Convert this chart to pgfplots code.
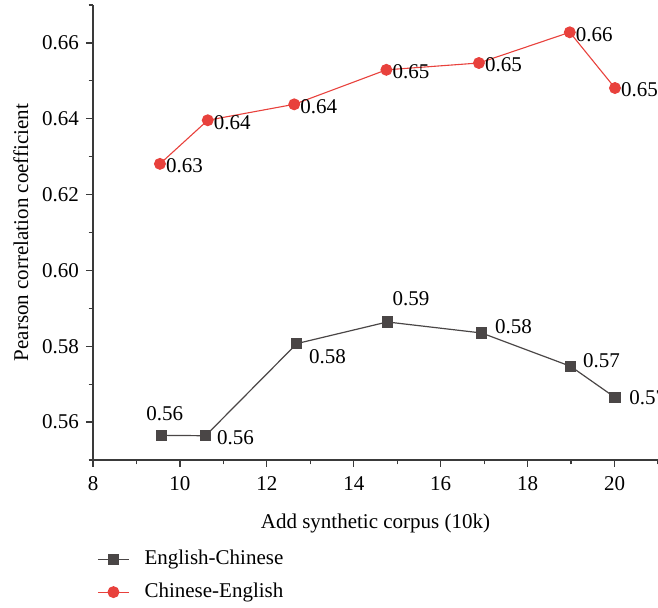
\documentclass[border=0pt]{standalone}
\usepackage{fontspec}
\setmainfont{Liberation Serif}
\usepackage{pgfplots}
\usepackage{pgfplotstable}
\pgfplotsset{compat=1.18}
\usetikzlibrary{calc}

\definecolor{ecgray}{HTML}{4A4646}
\definecolor{cered}{HTML}{E8413C}
\definecolor{axisgray}{HTML}{3A3A3A}

\pgfplotstableread{
x      y
9.58   0.5565
10.59  0.5564
12.69  0.5807
14.77  0.5864
16.94  0.5835
18.99  0.5747
20.01  0.5665
}\englishchinese

\pgfplotstableread{
x      y
9.54   0.6281
10.64  0.6396
12.63  0.6438
14.75  0.6529
16.88  0.6547
18.97  0.6628
20.01  0.6481
}\chineseenglish

\pgfplotsset{
  ec style/.style={color=ecgray, line width=0.6pt, mark=square*,
    mark options={fill=ecgray, draw=ecgray, mark size=2.5pt}},
  ce style/.style={color=cered, line width=0.55pt, mark=*,
    mark options={fill=cered, draw=cered, mark size=2.7pt}},
  value labels/.style={
    nodes near coords={\pgfmathprintnumber[fixed, fixed zerofill, precision=2, assume math mode=true]{\pgfplotspointmeta}},
    point meta=y,
    every node near coord/.style={inner sep=0pt, text=black,
      font=\fontsize{10.5}{12.5}\selectfont},
  },
  % value label of a single point: index, next index, anchor, xshift, yshift
  lbl/.style n args={5}{
    draw=none, mark=none, forget plot, value labels,
    skip coords between index={0}{#1},
    skip coords between index={#2}{100},
    every node near coord/.append style={anchor=#3, xshift=#4, yshift=#5},
  },
}

\begin{document}
\begin{tikzpicture}[font=\fontsize{10.5}{12.5}\selectfont]
\begin{axis}[
  scale only axis,
  width=282.5pt, height=227.5pt,
  xmin=8, xmax=21, ymin=0.55, ymax=0.67,
  axis x line*=bottom, axis y line*=left,
  axis line style={draw=axisgray, line width=0.65pt},
  xtick={8,10,12,14,16,18,20},
  minor xtick={9,11,13,15,17,19,21},
  ytick={0.56,0.58,0.60,0.62,0.64,0.66},
  minor ytick={0.55,0.57,0.59,0.61,0.63,0.65,0.67},
  tick align=outside,
  major tick length=3.5pt, minor tick length=2.2pt,
  tick style={draw=axisgray, line width=0.65pt},
  /pgf/number format/assume math mode=true,
  yticklabel style={/pgf/number format/.cd, fixed, fixed zerofill, precision=2},
  xticklabel style={yshift=-1.3pt, /pgf/number format/.cd, fixed},
  scaled y ticks=false,
  xlabel={Add synthetic corpus (10k)},
  xlabel style={yshift=-4.5pt},
  ylabel={Pearson correlation coefficient},
  legend style={draw=none, fill=none, at={(0.007,-0.195)}, anchor=north west,
    inner sep=0pt, row sep=6.5pt,
    nodes={inner sep=0pt, text height=7.5pt, text depth=2.5pt},
    /tikz/every odd column/.append style={column sep=7.5pt}},
  legend cell align=left,
  legend image code/.code={
    \draw[mark repeat=2, mark phase=2] plot coordinates {(0pt,0pt) (7.75pt,0pt) (15.5pt,0pt)};
  },
]
\addplot[ec style] table[x=x, y=y] {\englishchinese};
\addlegendentry{English-Chinese}
\addplot[ce style, value labels,
  every node near coord/.append style={anchor=west, xshift=2.8pt, yshift=-1pt}]
  table[x=x, y=y] {\chineseenglish};
\addlegendentry{Chinese-English}

% labels of the English-Chinese points
\addplot[lbl={0}{1}{south}{1.5pt}{6.9pt}] table[x=x, y=y] {\englishchinese};
\addplot[lbl={1}{2}{west}{5.6pt}{-1pt}] table[x=x, y=y] {\englishchinese};
\addplot[lbl={2}{3}{west}{6pt}{-6.3pt}] table[x=x, y=y] {\englishchinese};
\addplot[lbl={3}{4}{south west}{2.5pt}{7.8pt}] table[x=x, y=y] {\englishchinese};
\addplot[lbl={4}{5}{west}{6.6pt}{3pt}] table[x=x, y=y] {\englishchinese};
\addplot[lbl={5}{6}{west}{6pt}{2.8pt}] table[x=x, y=y] {\englishchinese};
\addplot[lbl={6}{7}{west}{7pt}{0pt}] table[x=x, y=y] {\englishchinese};
\end{axis}
\pgfresetboundingbox
\path[use as bounding box]
  ($(current axis.south west)+(-46.5pt,-74pt)$) rectangle
  ($(current axis.north east)+(0pt,2.5pt)$);
\end{tikzpicture}
\end{document}
